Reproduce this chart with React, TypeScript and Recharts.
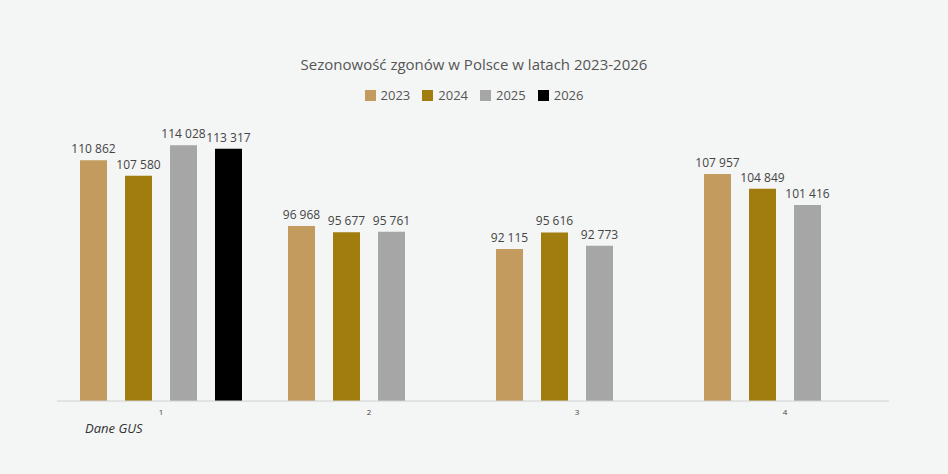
import { BarChart, Bar, XAxis, YAxis, LabelList } from 'recharts';

const quarters = ['1', '2', '3', '4'];
const y2023 = [110862, 96968, 92115, 107957];
const y2024 = [107580, 95677, 95616, 104849];
const y2025 = [114028, 95761, 92773, 101416];
const y2026: (number | null)[] = [113317, null, null, null];

const series = [
  { key: 'y2023', name: '2023', color: '#c39b5e' },
  { key: 'y2024', name: '2024', color: '#a17c0f' },
  { key: 'y2025', name: '2025', color: '#a6a6a6' },
  { key: 'y2026', name: '2026', color: '#000000' },
];

const data = quarters.map((q, i) => ({
  q,
  y2023: y2023[i],
  y2024: y2024[i],
  y2025: y2025[i],
  y2026: y2026[i],
}));

const fmt = (v: any) => (v == null ? '' : String(v).replace(/\B(?=(\d{3})+(?!\d))/g, ' '));
const font = '"Open Sans", sans-serif';

function ValueLabel(props: any) {
  const { x, y, width, value } = props;
  if (value == null) return null;
  return (
    <text x={x + width / 2} y={y - 7} textAnchor="middle" fontSize={12} fill="#444" fontFamily={font}>
      {fmt(value)}
    </text>
  );
}

export default function App() {
  return (
    <div style={{ position: 'absolute', left: 0, top: 0, width: 948, height: 474, background: '#f4f5f5', fontFamily: font }}>
      <div style={{ position: 'absolute', top: 54, width: '100%', textAlign: 'center', fontSize: 15, color: '#555' }}>
        Sezonowość zgonów w Polsce w latach 2023-2026
      </div>
      <div style={{ position: 'absolute', top: 86, width: '100%', display: 'flex', justifyContent: 'center', gap: 12, fontSize: 13, color: '#555' }}>
        {series.map((s) => (
          <div key={s.key} style={{ display: 'flex', alignItems: 'center', gap: 5 }}>
            <span style={{ width: 11, height: 11, background: s.color, display: 'inline-block' }} />
            {s.name}
          </div>
        ))}
      </div>
      <div style={{ position: 'absolute', left: 85, top: 419, fontSize: 13, fontStyle: 'italic', color: '#333' }}>Dane GUS</div>
      <BarChart width={948} height={474} data={data} margin={{ top: 117, right: 59, left: 57, bottom: 0 }} barSize={27} barGap={18} style={{ position: 'absolute', left: 0, top: 0 }}>
        <XAxis dataKey="q" height={73} tickLine={false} axisLine={{ stroke: '#d0d0d0' }} tick={{ fontSize: 8, fill: '#444', fontFamily: font }} tickMargin={2} />
        <YAxis hide domain={[60000, 120000]} allowDataOverflow />
        {series.map((s) => (
          <Bar key={s.key} dataKey={s.key} fill={s.color} isAnimationActive={false}>
            <LabelList dataKey={s.key} content={ValueLabel} />
          </Bar>
        ))}
      </BarChart>
    </div>
  );
}
